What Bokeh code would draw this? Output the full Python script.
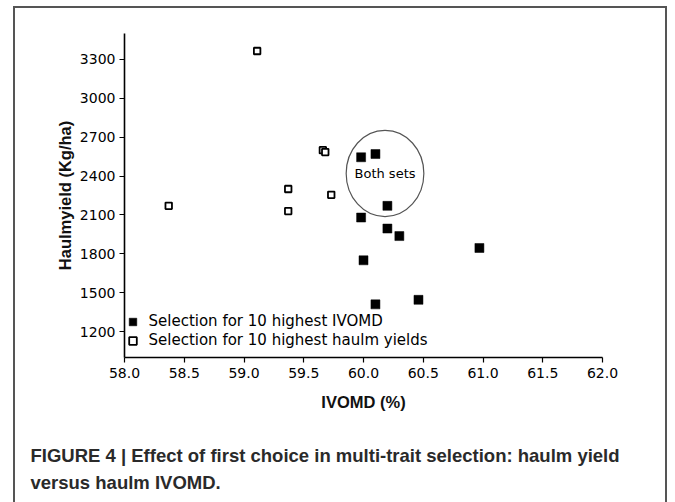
from bokeh.plotting import figure
from bokeh.models import Range1d, FixedTicker, Legend, LegendItem, Title
from bokeh.core.properties import value
from bokeh.embed import file_html
from bokeh.resources import INLINE

# ---- data ----
ivomd_sel_x = [59.98, 60.10, 60.20, 59.98, 60.20, 60.30, 60.97, 60.00, 60.10, 60.46]
ivomd_sel_y = [2545, 2570, 2170, 2080, 1995, 1937, 1845, 1750, 1410, 1445]
yield_sel_x = [58.37, 59.11, 59.37, 59.37, 59.66, 59.68, 59.73]
yield_sel_y = [2170, 3365, 2300, 2130, 2600, 2585, 2255]
x_ticks = [58.0, 58.5, 59.0, 59.5, 60.0, 60.5, 61.0, 61.5, 62.0]
y_ticks = [1200, 1500, 1800, 2100, 2400, 2700, 3000, 3300]
x_lim = (58.0, 62.0)
y_lim = (1000, 3500)
circle_center = (60.18, 2420)
circle_size = (0.65, 665)
legend_labels = ["Selection for 10 highest IVOMD", "Selection for 10 highest haulm yields"]
circle_text = "Both sets"
x_title = "IVOMD (%)"
y_title = "Haulmyield (Kg/ha)"
caption_lines = ["FIGURE 4 | Effect of first choice in multi-trait selection: haulm yield",
                 "versus haulm IVOMD."]

# ---- layout (pixels) ----
W, H = 667, 494
FL, FT, FW, FH = 124, 33, 478, 324

p = figure(width=W, height=H, frame_width=FW, frame_height=FH,
           min_border_left=FL, min_border_right=W - FL - FW, min_border_top=FT,
           min_border_bottom=H - FT - FH,
           x_range=Range1d(*x_lim), y_range=Range1d(*y_lim),
           output_backend="svg", toolbar_location=None)
p.outline_line_color = None
p.grid.visible = False
p.background_fill_color = "white"
p.border_fill_alpha = 0
# thin grey frame around the whole figure (left, top, right edges)
p.styles = {"box-shadow": ("inset 13px 0 0 0 white, inset 0 6px 0 0 white, "
                           "inset 15px 0 0 0 #555555, inset 0 8px 0 0 #555555, "
                           "inset -2px 0 0 0 #555555")}

TICK_FONT = "DejaVu Sans"
for ax in (p.xaxis[0], p.yaxis[0]):
    ax.axis_line_color = "black"
    ax.axis_line_width = 1.6
    ax.major_tick_line_color = "black"
    ax.major_tick_line_width = 1.2
    ax.major_tick_out = 5
    ax.major_tick_in = 0
    ax.minor_tick_line_color = None
    ax.major_label_text_font = TICK_FONT
    ax.major_label_text_font_size = "14px"
    ax.major_label_text_color = "black"
    ax.axis_label_text_font = "Liberation Sans"
    ax.axis_label_text_font_style = "bold"
    ax.axis_label_text_font_size = "16.5px"
    ax.axis_label_text_color = "#111111"

p.xaxis.ticker = FixedTicker(ticks=x_ticks)
p.xaxis.major_label_overrides = {t: f"{t:.1f}" for t in x_ticks}
p.xaxis.major_label_standoff = 5
p.xaxis.axis_label = x_title
p.xaxis.axis_label_standoff = 12

p.yaxis.ticker = FixedTicker(ticks=y_ticks)
p.yaxis.major_label_standoff = 4
p.yaxis.axis_label = y_title
p.yaxis.axis_label_standoff = 3

# ellipse around the points in both sets
p.ellipse(x=[circle_center[0]], y=[circle_center[1]], width=[circle_size[0]],
          height=[circle_size[1]], fill_color=None, line_color="#555555",
          line_width=1.2)
p.text(x=[circle_center[0]], y=[circle_center[1]], text=[circle_text],
       text_align="center", text_baseline="middle",
       text_font=value("DejaVu Sans"), text_font_size="13px", text_color="black")

r_fill = p.scatter(ivomd_sel_x, ivomd_sel_y, marker="square", size=9,
                   fill_color="black", line_color="black", line_width=0.5)
r_open = p.scatter(yield_sel_x, yield_sel_y, marker="square", size=6.5,
                   fill_color="white", line_color="black", line_width=1.8)

legend = Legend(items=[LegendItem(label=legend_labels[0], renderers=[r_fill]),
                       LegendItem(label=legend_labels[1], renderers=[r_open])],
                location=(-1.5, 7.5), orientation="vertical",
                glyph_width=19, glyph_height=19, label_height=19,
                label_standoff=7, spacing=0, padding=0, margin=0,
                border_line_color=None, background_fill_alpha=0,
                label_text_font="DejaVu Sans", label_text_font_size="15px",
                label_text_color="black")
p.add_layout(legend, "center")

# caption as a two-line title below the x axis
cap = Title(text="\n".join(caption_lines), align="left", offset=30 - FL,
            standoff=59, text_font="Liberation Sans", text_font_style="bold",
            text_font_size="18.5px", text_line_height=1.3,
            text_color="#2a2a2a", vertical_align="bottom")
p.add_layout(cap, "below")

open("out.html", "w").write(file_html(p, INLINE))
